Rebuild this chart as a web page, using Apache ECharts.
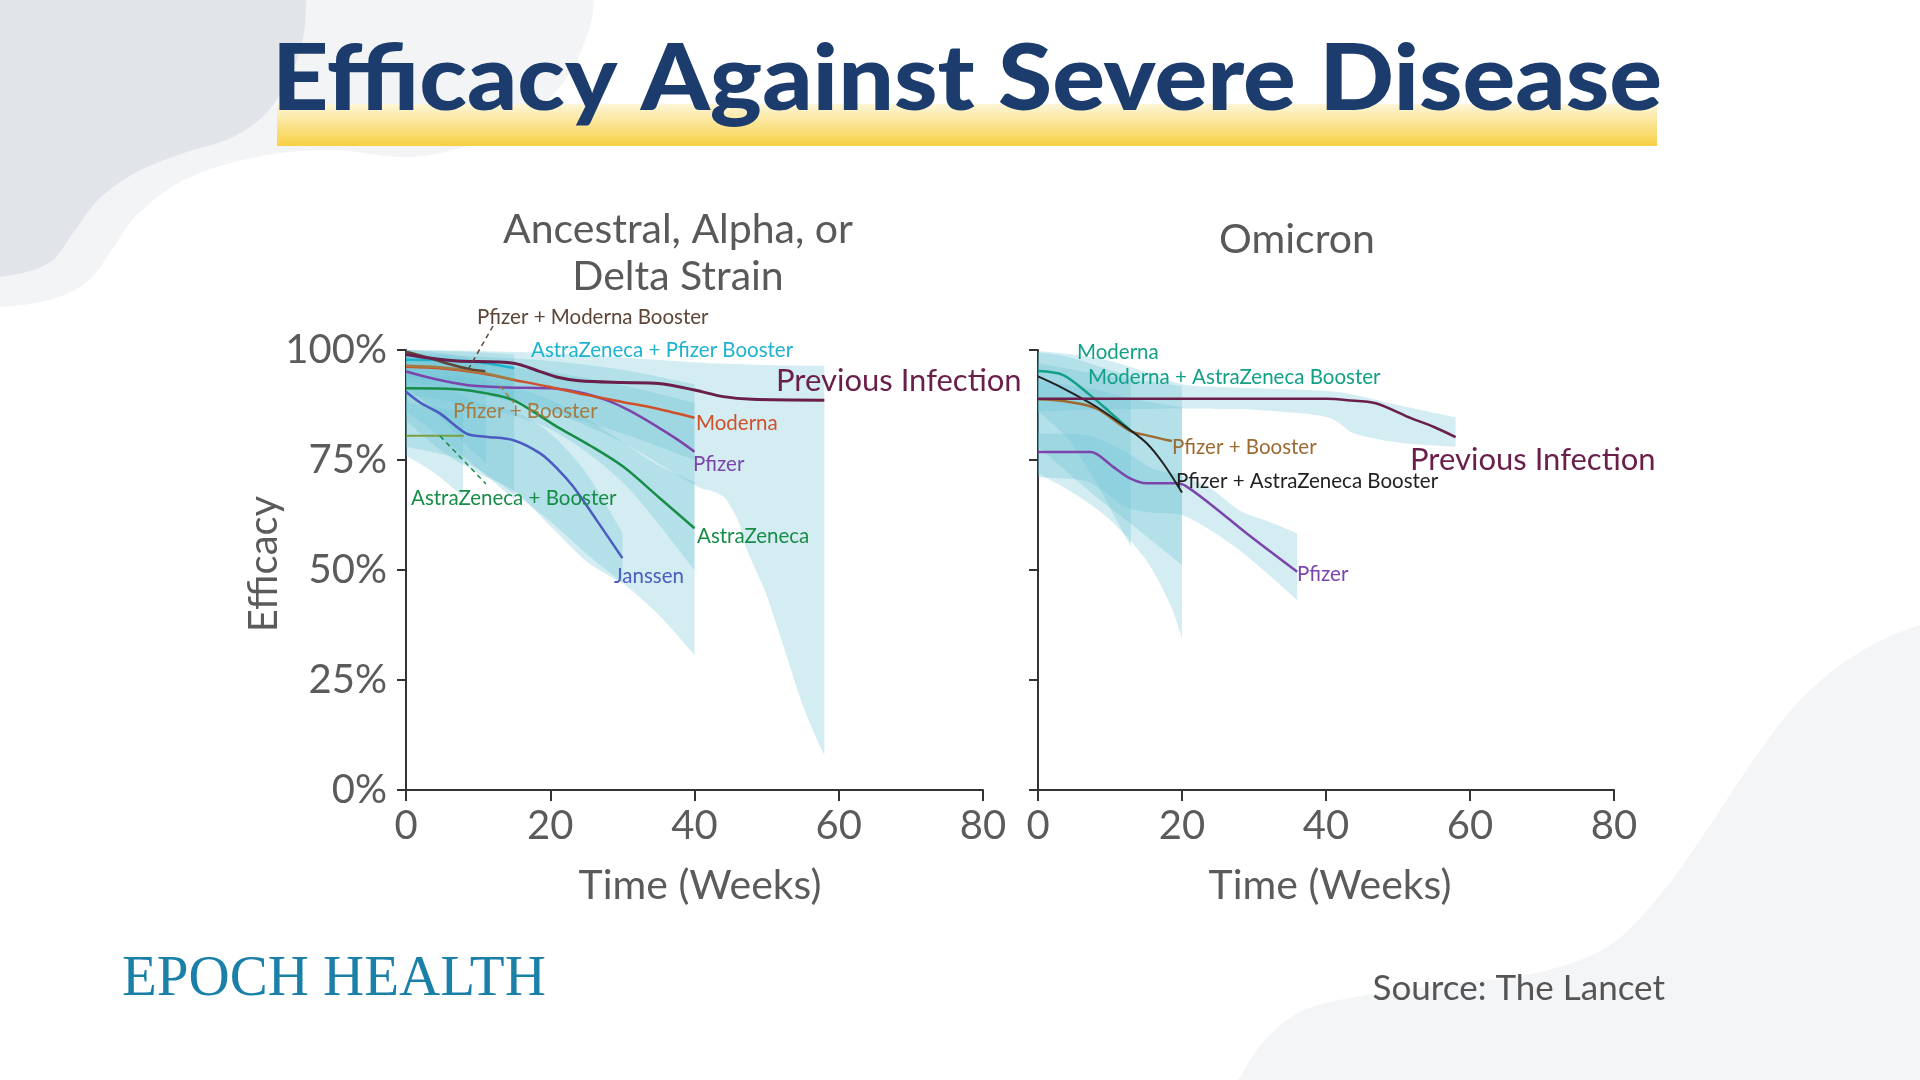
<!DOCTYPE html>
<html><head><meta charset="utf-8">
<script src="https://cdn.jsdelivr.net/npm/echarts@6/dist/echarts.min.js"></script>
<style>html,body{margin:0;padding:0;background:#fff}#c{width:1920px;height:1080px}</style>
</head><body><div id="c"></div>
<script>
// ---------------- DATA ----------------
const xTickLabels = [0, 20, 40, 60, 80];
const yTickLabels = ['0%', '25%', '50%', '75%', '100%'];

// Left panel: Ancestral, Alpha, or Delta Strain  (weeks, efficacy %)
const prevL_x = [0, 3.5, 7, 14.9, 18.6, 21, 24, 30, 35, 40, 44, 48, 58];
const prevL_y = [99.0, 98.1, 97.5, 97.0, 95.1, 93.8, 93.0, 92.6, 92.4, 90.9, 89.4, 88.8, 88.6];
const modernaL_x = [0, 5, 10, 15, 20, 25, 30, 35, 40];
const modernaL_y = [96.2, 95.8, 94.8, 93.2, 91.6, 89.8, 88.2, 86.6, 84.6];
const pfizerL_x = [0, 4, 8.6, 14, 20.9, 24, 27.8, 31, 34.8, 37.5, 40];
const pfizerL_y = [95.1, 93.4, 92.0, 91.5, 91.2, 90.4, 88.6, 86.2, 82.6, 79.8, 76.9];
const azL_x = [0, 7, 11, 14.9, 20.9, 25.5, 30.1, 35, 40];
const azL_y = [91.3, 91.1, 90.2, 88.6, 82.6, 78.3, 73.5, 66.6, 59.5];
const janssenL_x = [0, 2, 4.7, 8.4, 11.1, 14.9, 18.6, 21, 23.2, 26.4, 30];
const janssenL_y = [90.5, 88.0, 85.6, 81.0, 80.3, 79.5, 76.5, 73.0, 68.9, 61.4, 52.7];
const azPfBoostL_x = [0, 5, 10, 15];
const azPfBoostL_y = [97.8, 97.7, 97.2, 95.9];
const pfModBoostL_x = [0, 3, 6, 9, 11];
const pfModBoostL_y = [99.6, 98.3, 96.8, 95.6, 95.2];
const pfBoostL_x = [0, 5, 10, 15];
const pfBoostL_y = [96.4, 96.0, 95.0, 93.2];
const azBoostL_x = [0, 8];
const azBoostL_y = [80.5, 80.5];

// Left panel confidence bands
const prevBandL_x  = [0, 10, 20, 30, 40, 42, 44, 45.3, 46.2, 47.1, 48.5, 49.9, 51.3, 53.1, 54.9, 56.8, 58];
const prevBandL_hi = [100, 99.8, 99.3, 98.3, 97.2, 97.0, 96.9, 96.8, 96.8, 96.7, 96.6, 96.6, 96.5, 96.5, 96.4, 96.4, 96.4];
const prevBandL_lo = [94, 91, 86, 79, 69.3, 68.2, 66.7, 63.6, 60.6, 55.3, 50.0, 44.7, 37.9, 28.8, 19.7, 12.1, 8.0];
const modernaBandL_x  = [0, 10, 20, 30, 40];
const modernaBandL_hi = [99.5, 98.5, 97.5, 95.5, 92.2];
const modernaBandL_lo = [93, 90, 86, 81, 75];
const pfizerBandL_x  = [0, 10, 20, 30, 40];
const pfizerBandL_hi = [98.5, 97, 95, 92, 88];
const pfizerBandL_lo = [90, 87, 82, 70, 50];
const azBandL_x  = [0, 7, 11.6, 16.2, 20.9, 25.5, 30.1, 34.8, 40];
const azBandL_hi = [94, 94, 93, 91, 88, 84, 79, 74, 70];
const azBandL_lo = [78, 75.4, 71.2, 65.9, 59.8, 53, 47, 40.2, 30.7];
const janssenBandL_x  = [0, 5, 10, 15, 20, 25, 30];
const janssenBandL_hi = [96, 92, 88, 86, 81, 72, 58.5];
const janssenBandL_lo = [84, 77, 72, 68, 60, 52, 47];
const azPfBandL_x  = [0, 5, 10, 15];
const azPfBandL_hi = [100, 99.8, 99.5, 99];
const azPfBandL_lo = [94, 93, 91, 88.6];
const pfBoostBandL_x  = [0, 5, 10, 15];
const pfBoostBandL_hi = [99, 98.5, 97.5, 96.5];
const pfBoostBandL_lo = [86, 80, 73, 66];
const pfModBandL_x  = [0, 4, 8, 11.1];
const pfModBandL_hi = [100, 99.5, 98.5, 97];
const pfModBandL_lo = [92, 86, 79, 74.2];
const azBoostBandL_x  = [0, 4, 7.9];
const azBoostBandL_hi = [88, 87, 86];
const azBoostBandL_lo = [76, 72, 66.7];

// Right panel: Omicron
const prevR_x = [0, 20, 40, 43, 46.9, 51.8, 55, 58];
const prevR_y = [88.9, 88.9, 88.9, 88.6, 87.9, 84.5, 82.5, 80.2];
const modernaR_x = [0, 3.5, 7.2, 9.9, 12.8];
const modernaR_y = [95.2, 94.3, 89.8, 86.0, 81.8];
const pfAzBoostR_x = [0, 3.5, 8.1, 12.8, 15.1, 17.4, 20];
const pfAzBoostR_y = [94.0, 91.3, 87.1, 81.8, 78.8, 74.2, 67.6];
const pfBoostR_x = [0, 3.5, 8, 12.8, 15.1, 18.6];
const pfBoostR_y = [88.8, 88.4, 86.8, 81.6, 80.6, 79.3];
const pfizerR_x = [0, 7.3, 10.4, 12.8, 15.1, 19.3, 20.7, 24.4, 29, 36];
const pfizerR_y = [76.8, 76.8, 73.5, 70.8, 69.7, 69.7, 68.9, 64.4, 58.3, 49.6];

// Right panel confidence bands
const prevBandR_x  = [0, 5, 10, 15, 20, 25, 30, 40, 44, 50, 58];
const prevBandR_hi = [99.8, 99, 97.5, 95, 92.2, 91.6, 91.3, 90.7, 89.8, 87.5, 84.7];
const prevBandR_lo = [86, 86.3, 86.5, 86.6, 86.7, 86.6, 86.4, 84.8, 81, 79, 78];
const modernaBandR_x  = [0, 4, 8, 12.9];
const modernaBandR_hi = [99.5, 98.5, 96.5, 94];
const modernaBandR_lo = [86, 80, 70, 55.3];
const pfAzBandR_x  = [0, 5, 10, 15, 18.3, 20];
const pfAzBandR_hi = [97, 95.5, 94, 93, 92.2, 91.7];
const pfAzBandR_lo = [72, 67.4, 61.4, 52.3, 42.4, 34.5];
const pfBoostBandR_x  = [0, 8, 12.8, 20];
const pfBoostBandR_hi = [93, 91, 89, 87];
const pfBoostBandR_lo = [78, 66.7, 60.6, 51.1];
const pfizerBandR_x  = [0, 7, 12, 16, 20, 24, 28, 32, 36];
const pfizerBandR_hi = [81, 80.5, 77, 73, 71.5, 68.5, 63.5, 61, 58.3];
const pfizerBandR_lo = [71, 70, 64.5, 63, 62.5, 59, 54.5, 49, 43.2];

// ---------------- BUILD ----------------
const FONT = 'Lato';
const BAND = 'rgba(110,196,212,0.30)';
const pairs = (xs, ys) => xs.map((x, i) => [x, ys[i]]);

function line(name, xs, ys, color, width, ax) {
  return { type: 'line', name, xAxisIndex: ax, yAxisIndex: ax, data: pairs(xs, ys),
    symbol: 'none', smooth: 0.3, silent: true, z: 5,
    lineStyle: { color, width } };
}

// Catmull-Rom style bezier segments through pixel points
function crSegments(pts, k) {
  let d = '';
  for (let i = 0; i < pts.length - 1; i++) {
    const p0 = pts[i - 1] || pts[i], p1 = pts[i], p2 = pts[i + 1], p3 = pts[i + 2] || pts[i + 1];
    const c1x = p1[0] + (p2[0] - p0[0]) * k / 6, c1y = p1[1] + (p2[1] - p0[1]) * k / 6;
    const c2x = p2[0] - (p3[0] - p1[0]) * k / 6, c2y = p2[1] - (p3[1] - p1[1]) * k / 6;
    d += ' C' + c1x + ',' + c1y + ' ' + c2x + ',' + c2y + ' ' + p2[0] + ',' + p2[1];
  }
  return d;
}
function bandSeries(bands, ax) {
  return { type: 'custom', coordinateSystem: 'cartesian2d', xAxisIndex: ax, yAxisIndex: ax,
    silent: true, z: 2, clip: true,
    data: bands.map(() => [0, 50]),
    renderItem: function (params, api) {
      const b = bands[params.dataIndex];
      const up = b.x.map((x, i) => api.coord([x, b.hi[i]]));
      const dn = b.x.map((x, i) => api.coord([x, b.lo[i]])).reverse();
      const d = 'M' + up[0][0] + ',' + up[0][1] + crSegments(up, 0.9) +
        ' L' + dn[0][0] + ',' + dn[0][1] + crSegments(dn, 0.9) + ' Z';
      return { type: 'path', shape: { pathData: d }, style: { fill: BAND, stroke: null } };
    } };
}

const bandsLeft = [
  { x: prevBandL_x, lo: prevBandL_lo, hi: prevBandL_hi },
  { x: modernaBandL_x, lo: modernaBandL_lo, hi: modernaBandL_hi },
  { x: pfizerBandL_x, lo: pfizerBandL_lo, hi: pfizerBandL_hi },
  { x: azBandL_x, lo: azBandL_lo, hi: azBandL_hi },
  { x: janssenBandL_x, lo: janssenBandL_lo, hi: janssenBandL_hi },
  { x: azPfBandL_x, lo: azPfBandL_lo, hi: azPfBandL_hi },
  { x: pfBoostBandL_x, lo: pfBoostBandL_lo, hi: pfBoostBandL_hi },
  { x: pfModBandL_x, lo: pfModBandL_lo, hi: pfModBandL_hi },
  { x: azBoostBandL_x, lo: azBoostBandL_lo, hi: azBoostBandL_hi }
];
const bandsRight = [
  { x: prevBandR_x, lo: prevBandR_lo, hi: prevBandR_hi },
  { x: modernaBandR_x, lo: modernaBandR_lo, hi: modernaBandR_hi },
  { x: pfAzBandR_x, lo: pfAzBandR_lo, hi: pfAzBandR_hi },
  { x: pfBoostBandR_x, lo: pfBoostBandR_lo, hi: pfBoostBandR_hi },
  { x: pfizerBandR_x, lo: pfizerBandR_lo, hi: pfizerBandR_hi }
];

const C = {
  prev: '#6a1f4b', moderna: '#d0502a', pfizer: '#7c45ac', az: '#178d47', janssen: '#4b5bbf',
  azPf: '#1eb3cf', pfMod: '#5e4536', pfBoost: '#a57b42', azBoost: '#7aa040',
  modR: '#12a087', black: '#222222', pfBoostR: '#9d6b32'
};

const series = [
  bandSeries(bandsLeft, 0),
  bandSeries(bandsRight, 1),
  line('AstraZeneca + Booster', azBoostL_x, azBoostL_y, C.azBoost, 2, 0),
  line('Janssen', janssenL_x, janssenL_y, C.janssen, 2.5, 0),
  line('AstraZeneca', azL_x, azL_y, C.az, 2.5, 0),
  line('Pfizer', pfizerL_x, pfizerL_y, C.pfizer, 2.5, 0),
  line('Moderna', modernaL_x, modernaL_y, C.moderna, 2.5, 0),
  line('Pfizer + Booster', pfBoostL_x, pfBoostL_y, C.pfBoost, 2.5, 0),
  line('AstraZeneca + Pfizer Booster', azPfBoostL_x, azPfBoostL_y, C.azPf, 2.5, 0),
  line('Pfizer + Moderna Booster', pfModBoostL_x, pfModBoostL_y, C.pfMod, 2.5, 0),
  line('Previous Infection', prevL_x, prevL_y, C.prev, 3, 0),
  line('Pfizer R', pfizerR_x, pfizerR_y, C.pfizer, 2.5, 1),
  line('Pfizer + Booster R', pfBoostR_x, pfBoostR_y, C.pfBoostR, 2.5, 1),
  line('Moderna R', modernaR_x, modernaR_y, C.modR, 2.5, 1),
  line('Pfizer + AstraZeneca Booster R', pfAzBoostR_x, pfAzBoostR_y, C.black, 2, 1),
  line('Previous Infection R', prevR_x, prevR_y, C.prev, 2.5, 1)
];

const axisLine = { show: true, onZero: false, lineStyle: { color: '#333', width: 2 } };
const tick = (len) => ({ show: true, length: len, lineStyle: { color: '#333', width: 2 } });
function xAx(i) {
  return { type: 'value', gridIndex: i, min: 0, max: 80, interval: 20,
    axisLine, axisTick: tick(11), splitLine: { show: false },
    axisLabel: { fontFamily: FONT, fontSize: 40, color: '#5b5b5b', margin: 16,
      formatter: v => String(xTickLabels[Math.round(v / 20)]) } };
}
function yAx(i, showLabel) {
  return { type: 'value', gridIndex: i, min: 0, max: 100, interval: 25,
    axisLine, axisTick: tick(9), splitLine: { show: false },
    axisLabel: { show: showLabel, fontFamily: FONT, fontSize: 40, color: '#5b5b5b', margin: 19,
      formatter: v => yTickLabels[Math.round(v / 25)] } };
}

function txt(text, x, y, color, size, opts) {
  opts = opts || {};
  return Object.assign({ type: 'text', x, y, z: 50, silent: true,
    style: { text, fill: color, fontFamily: opts.family || FONT, fontSize: size, fontWeight: opts.weight || 'normal',
      textAlign: opts.align || 'left', align: opts.align || 'left',
      textVerticalAlign: 'middle', verticalAlign: 'middle' } }, opts.extra || {});
}
function dash(x1, y1, x2, y2, color) {
  return { type: 'line', z: 40, silent: true, shape: { x1, y1, x2, y2 },
    style: { stroke: color, lineWidth: 1.5, lineDash: [5, 4] } };
}
function blob(points, fill, z) {
  return { type: 'polygon', z, silent: true, shape: { points, smooth: 0.35 }, style: { fill } };
}

const graphics = [
  // background blobs
  blob([[-60,-60],[594,-60],[594,0],[588,33],[563,83],[514,127],[453,150],[404,157],[331,150],[257,157],[184,180],[135,217],[110,253],[86,283],[49,300],[0,307],[-60,310]], '#f3f4f6', -10),
  blob([[-60,-60],[306,-60],[306,0],[304,33],[294,67],[269,110],[233,137],[184,153],[135,173],[98,200],[73,233],[49,263],[0,277],[-60,280]], '#e1e4e9', -9),
  blob([[1200,1140],[1238,1080],[1265,1040],[1300,1012],[1350,998],[1440,985],[1540,972],[1610,945],[1660,895],[1700,840],[1750,765],[1800,700],[1860,652],[1920,625],[1990,610],[1990,1140]], '#f4f5f7', -10),
  // title highlight
  { type: 'rect', z: 10, silent: true, shape: { x: 277, y: 104, width: 1380, height: 42 },
    style: { fill: { type: 'linear', x: 0, y: 0, x2: 0, y2: 1, colorStops: [
      { offset: 0, color: '#fdf6d8' }, { offset: 1, color: '#f8d044' }] } } },
  txt('Efficacy Against Severe Disease', 967, 80, '#1b3c6c', 92, { align: 'center', weight: 900, extra: { scaleX: 1.07 } }),
  // panel titles
  txt('Ancestral, Alpha, or', 678, 230, '#595959', 41, { align: 'center' }),
  txt('Delta Strain', 678, 277, '#595959', 41, { align: 'center' }),
  txt('Omicron', 1297, 240, '#595959', 41, { align: 'center' }),
  // axis titles
  txt('Time (Weeks)', 700, 886, '#5b5b5b', 41, { align: 'center' }),
  txt('Time (Weeks)', 1330, 886, '#5b5b5b', 41, { align: 'center' }),
  txt('Efficacy', 264, 564, '#5b5b5b', 40, { align: 'center', extra: { rotation: Math.PI / 2 } }),
  // left labels
  txt('Pfizer + Moderna Booster', 477, 317, C.pfMod, 20.5),
  txt('AstraZeneca + Pfizer Booster', 531, 350, C.azPf, 20.5),
  txt('Previous Infection', 776, 381, C.prev, 31),
  txt('Pfizer + Booster', 453, 411, C.pfBoost, 20.5),
  txt('Moderna', 696, 423, C.moderna, 20.5),
  txt('Pfizer', 693, 464, C.pfizer, 20.5),
  txt('AstraZeneca + Booster', 411, 498, C.az, 20.5),
  txt('AstraZeneca', 697, 536, C.az, 20.5),
  txt('Janssen', 614, 576, C.janssen, 20.5),
  dash(493, 326, 469, 368, C.pfMod),
  dash(440, 436, 486, 484, C.az),
  dash(500, 386, 514, 403, C.pfBoost),
  // right labels
  txt('Moderna', 1077, 352, C.modR, 20.5),
  txt('Moderna + AstraZeneca Booster', 1088, 377, C.modR, 20.5),
  txt('Pfizer + Booster', 1172, 447, C.pfBoostR, 20.5),
  txt('Pfizer + AstraZeneca Booster', 1176, 481, C.black, 20.5),
  txt('Previous Infection', 1410, 460, C.prev, 31),
  txt('Pfizer', 1297, 574, C.pfizer, 20.5),
  // footer
  txt('EPOCH HEALTH', 122, 980, '#1a80a8', 57, { family: 'Liberation Serif' }),
  txt('Source: The Lancet', 1665, 989, '#555555', 35, { align: 'right' })
];

const chart = echarts.init(document.getElementById('c'), null, { renderer: 'canvas' });
chart.setOption({
  backgroundColor: '#ffffff',
  animation: false,
  grid: [
    { left: 406, top: 350, width: 577, height: 440 },
    { left: 1038, top: 350, width: 576, height: 440 }
  ],
  xAxis: [xAx(0), xAx(1)],
  yAxis: [yAx(0, true), yAx(1, false)],
  series,
  graphic: { elements: graphics }
});
</script></body></html>
